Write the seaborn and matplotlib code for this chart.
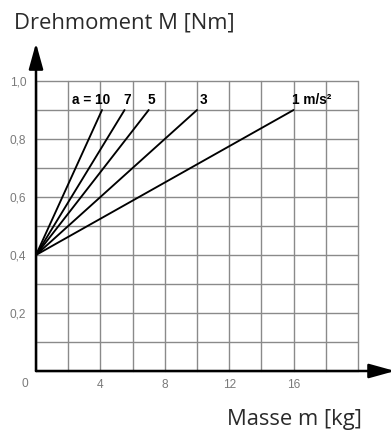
import matplotlib
matplotlib.use("Agg")
import matplotlib.pyplot as plt
import seaborn as sns
import pandas as pd

# ---- data ----
accels = ["10", "7", "5", "3", "1"]           # a [m/s²]
start_mass = [0, 0, 0, 0, 0]                  # m [kg]
start_torque = [0.4, 0.4, 0.4, 0.4, 0.4]      # M [Nm]
end_mass = [4.1, 5.5, 7.0, 10.0, 16.0]        # m [kg]
end_torque = [0.9, 0.9, 0.9, 0.9, 0.9]        # M [Nm]
line_labels = ["a = 10", "7", "5", "3", "1 m/s²"]

x_ticks = [0, 2, 4, 6, 8, 10, 12, 14, 16, 18, 20]
x_ticklabels = ["", "", "4", "", "8", "", "12", "", "16", "", ""]
y_ticks = [0.0, 0.1, 0.2, 0.3, 0.4, 0.5, 0.6, 0.7, 0.8, 0.9, 1.0]
y_ticklabels = ["", "", "0,2", "", "0,4", "", "0,6", "", "0,8", "", "1,0"]

title = "Drehmoment M [Nm]"
xlabel = "Masse m [kg]"

rows = []
for a, m0, M0, m1, M1 in zip(accels, start_mass, start_torque, end_mass, end_torque):
    rows.append({"a": a, "m": m0, "M": M0})
    rows.append({"a": a, "m": m1, "M": M1})
df = pd.DataFrame(rows)

sns.set_style("white")
plt.rcParams["font.family"] = ["Liberation Sans", "DejaVu Sans"]

W, H = 391, 434
fig = plt.figure(figsize=(W / 100, H / 100), dpi=100)
ax = fig.add_axes([36 / W, (H - 371) / H, (358 - 36) / W, (371 - 81) / H])

sns.lineplot(data=df, x="m", y="M", hue="a", palette=["black"] * len(accels),
             legend=False, ax=ax, linewidth=1.35, estimator=None, sort=False)

ax.set_xlim(0, 20)
ax.set_ylim(0, 1.0)
ax.set_xticks(x_ticks)
ax.set_xticklabels(x_ticklabels)
ax.set_yticks(y_ticks)
ax.set_yticklabels(y_ticklabels)
ax.tick_params(length=0, labelsize=8.6, labelcolor="#7a7a7a")
ax.tick_params(axis="x", pad=6)
ax.tick_params(axis="y", pad=7)
ax.set_xlabel("")
ax.set_ylabel("")
ax.grid(True, color="#8a8a8a", linewidth=1.0)
for ln in ax.get_xgridlines() + ax.get_ygridlines():
    ln.set_clip_on(False)
for s in ax.spines.values():
    s.set_visible(False)

# axis arrows
arrow_kw = dict(arrowstyle="-|>,head_length=1.05,head_width=0.29", color="black",
                lw=1.8, mutation_scale=15, shrinkA=0, shrinkB=0)
ax.annotate("", xy=(0, 1.131), xytext=(0, 0), arrowprops=arrow_kw,
            annotation_clip=False)
ax.annotate("", xy=(22.3, 0), xytext=(0, 0), arrowprops=arrow_kw,
            annotation_clip=False)

# origin label
ax.annotate("0", xy=(0, 0), xytext=(-8, -9.5), textcoords="offset points",
            ha="center", va="center", fontsize=8.6, color="#7a7a7a",
            annotation_clip=False)

# line labels
offsets = [(6, "right"), (2, "center"), (2, "center"), (4.5, "center"), (-1, "left")]
for lab, mx, my, (dx, ha) in zip(line_labels, end_mass, end_torque, offsets):
    ax.annotate(lab, xy=(mx, my), xytext=(dx, 2.5), textcoords="offset points",
                ha=ha, va="bottom", fontsize=9.8, fontweight="bold", color="black",
                annotation_clip=False)

fig.text(14 / W, 1 - 29 / H, title, fontsize=15.8, color="#2a2a2a",
         ha="left", va="baseline", family="Open Sans")
fig.text(227 / W, 1 - 425 / H, xlabel, fontsize=15.8, color="#2a2a2a",
         ha="left", va="baseline", family="Open Sans")

fig.savefig("out.png", dpi=100)
